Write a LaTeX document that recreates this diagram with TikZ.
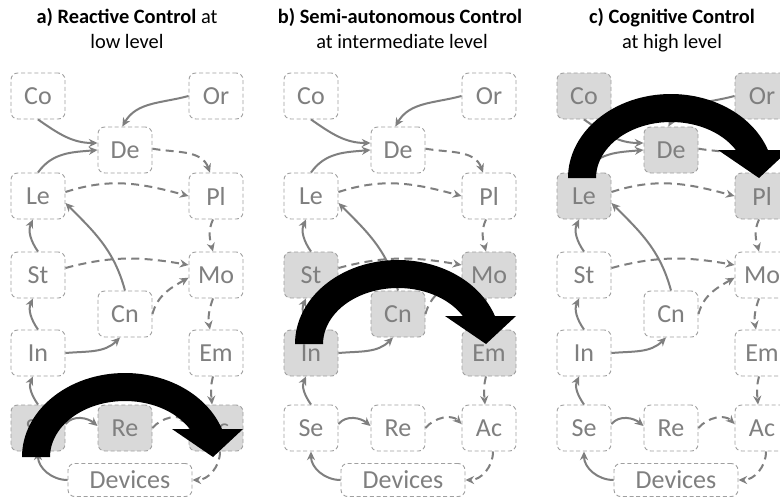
\documentclass[tikz,border=0pt]{standalone}
\usepackage{fontspec}
\setmainfont{Carlito}
\usetikzlibrary{arrows.meta}
\definecolor{boxfill}{HTML}{D9D9D9}
\definecolor{boxline}{HTML}{A0A0A0}
\definecolor{txtgray}{HTML}{7F7F7F}
\definecolor{edgecol}{HTML}{7F7F7F}
\tikzset{
  box/.style={draw=boxline, line width=0.7pt, dash pattern=on 3pt off 2pt,
    rounded corners=5pt, minimum width=40.5pt, minimum height=34.5pt,
    inner sep=0pt, text=txtgray, font=\fontsize{19.5}{20}\selectfont},
  devbox/.style={box, minimum width=93pt, minimum height=24.75pt},
  hl/.style={fill=boxfill},
  hlCo/.style={}, hlOr/.style={}, hlDe/.style={}, hlLe/.style={}, hlPl/.style={},
  hlSt/.style={}, hlMo/.style={}, hlCn/.style={}, hlIn/.style={}, hlEm/.style={},
  hlSe/.style={}, hlRe/.style={}, hlAc/.style={},
  ed/.style={draw=edgecol, line width=1.5pt, -{Stealth[length=6.5pt,width=6pt]}},
  dsh/.style={ed, dash pattern=on 6pt off 4pt},
  title/.style={font=\fontsize{15.3}{18}\selectfont, anchor=base, inner sep=0pt},
}
\newcommand\bigarr[1]{%
  \fill[black] (22,-#1) arc[start angle=180,end angle=19.47,x radius=77.175pt,y radius=63pt]
    -- (243,-#1+28) -- (213,-#1) -- (172,-#1+28) -- (189.8,-#1+28)
    arc[start angle=30,end angle=180,x radius=56.175pt,y radius=42pt] -- cycle;}
\newcommand\drawpanel[2]{%
  \node[box,hlCo] (#1Co) at (38,-96) {Co};
  \node[box,hlOr] (#1Or) at (216,-96) {Or};
  \node[box,hlDe] (#1De) at (125,-150) {De};
  \node[box,hlLe] (#1Le) at (38,-196) {Le};
  \node[box,hlPl] (#1Pl) at (216,-196) {Pl};
  \node[box,hlSt] (#1St) at (38,-275) {St};
  \node[box,hlMo] (#1Mo) at (216,-275) {Mo};
  \node[box,hlCn] (#1Cn) at (125,-314) {Cn};
  \node[box,hlIn] (#1In) at (38,-353) {In};
  \node[box,hlEm] (#1Em) at (216,-353) {Em};
  \node[box,hlSe] (#1Se) at (38,-428) {Se};
  \node[box,hlRe] (#1Re) at (125,-428) {Re};
  \node[box,hlAc] (#1Ac) at (216,-428) {Ac};
  \node[devbox] (#1Dv) at (130,-480) {Devices};
  \draw[ed] (#1Co.south) to[out=-35,in=180] ([yshift=5.25pt]#1De.west);
  \draw[ed] (#1Or.west) to[out=195,in=60] ([xshift=-2pt]#1De.north);
  \draw[ed] (#1Le.north) to[out=55,in=185] (#1De.west);
  \draw[dsh] ([yshift=1pt]#1De.east) to[out=-10,in=110] ([xshift=-4.5pt]#1Pl.north);
  \draw[dsh] ([yshift=3pt]#1Le.east) to[out=18,in=165] (#1Pl.west);
  \draw[dsh] ([xshift=-2.25pt]#1Pl.south) to[out=-115,in=105] ([xshift=-2.25pt]#1Mo.north);
  \draw[ed] (#1Cn.north) to[out=105,in=-45] ([yshift=-5.25pt]#1Le.east);
  \draw[ed] (#1St.north) to[out=125,in=-115] ([xshift=-3.75pt]#1Le.south);
  \draw[dsh] ([yshift=5.25pt]#1St.east) to[out=15,in=170] ([yshift=7.5pt]#1Mo.west);
  \draw[dsh] (#1Cn.east) to[out=75,in=210] ([yshift=-2pt]#1Mo.west);
  \draw[dsh] ([xshift=-2.25pt]#1Mo.south) to[out=-110,in=100] ([xshift=-4.5pt]#1Em.north);
  \draw[ed] (#1In.north) to[out=125,in=-115] ([xshift=-3.75pt]#1St.south);
  \draw[ed] (#1In.east) to[out=5,in=-135] ([xshift=-3.75pt]#1Cn.south);
  \draw[dsh] ([xshift=-2.25pt]#1Em.south) to[out=-105,in=95] ([xshift=-3pt]#1Ac.north);
  \draw[ed] (#1Se.north) to[out=125,in=-115] ([xshift=-3.75pt]#1In.south);
  \draw[ed] ([yshift=3pt]#1Se.east) to[out=50,in=140] ([yshift=1.5pt]#1Re.west);
  \draw[dsh] (#1Re.east) to[out=50,in=135] ([yshift=3pt]#1Ac.west);
  \draw[dsh] ([xshift=3pt]#1Ac.south) to[out=-90,in=0] (#1Dv.east);
  \draw[ed] (#1Dv.west) to[out=180,in=-90] (#1Se.south);
  \bigarr{#2}
}
\begin{document}
\begin{tikzpicture}[x=0.75pt,y=0.75pt]
\useasboundingbox (0,0) rectangle (780,-501);
\fill[white] (0,0) rectangle (780,-501);
\node[title] (ta1) at (127,-23) {\textbf{a) Reactive Control} at};
\node[title] (ta2) at (127,-48) {low level};
\node[title] (tb1) at (400,-23) {\textbf{b) Semi-autonomous Control}};
\node[title] (tb2) at (402,-48) {at intermediate level};
\node[title] (tc1) at (672,-23) {\textbf{c) Cognitive Control}};
\node[title] (tc2) at (672,-48) {at high level};
\begin{scope}[hlSe/.style=hl, hlRe/.style=hl, hlAc/.style=hl]
  \drawpanel{a}{457}
\end{scope}
\begin{scope}[shift={(273,0)}, hlSt/.style=hl, hlMo/.style=hl, hlCn/.style=hl, hlIn/.style=hl, hlEm/.style=hl]
  \drawpanel{b}{344}
\end{scope}
\begin{scope}[shift={(546,0)}, hlCo/.style=hl, hlOr/.style=hl, hlDe/.style=hl, hlLe/.style=hl, hlPl/.style=hl]
  \drawpanel{c}{178}
\end{scope}
\end{tikzpicture}
\end{document}
